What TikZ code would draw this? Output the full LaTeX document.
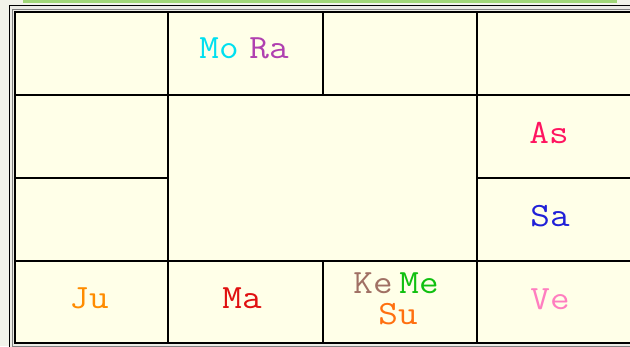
\documentclass[tikz,border=0pt]{standalone}
\usepackage{xcolor}
\definecolor{cellbg}{RGB}{255,255,232}
\definecolor{outbg}{RGB}{242,243,234}
\definecolor{framegap}{RGB}{236,236,230}
\definecolor{greenbar}{RGB}{160,214,120}
\definecolor{cMo}{RGB}{0,224,240}
\definecolor{cRa}{RGB}{176,64,176}
\definecolor{cAs}{RGB}{255,20,96}
\definecolor{cSa}{RGB}{32,32,216}
\definecolor{cJu}{RGB}{255,140,0}
\definecolor{cMa}{RGB}{224,16,16}
\definecolor{cKe}{RGB}{160,112,100}
\definecolor{cMe}{RGB}{16,192,16}
\definecolor{cSu}{RGB}{255,112,16}
\definecolor{cVe}{RGB}{255,126,192}
\newcommand{\plwide}[1]{\scalebox{1.12}[1]{#1}}
\begin{document}
\begin{tikzpicture}[x=1pt,y=-1pt,
  planet/.style={font=\fontsize{34}{34}\selectfont\ttfamily, inner sep=0pt, anchor=base},
  gridline/.style={line width=2pt, draw=black}]
\useasboundingbox (0,0) rectangle (630,346);
\clip (0,0) rectangle (630,346);
\fill[outbg] (0,0) rectangle (630,346);
\fill[greenbar] (23,0) rectangle (617,3);
% double frame
\fill[framegap] (9.5,5.5) rectangle (645,355);
\draw[line width=1.5pt] (9.5,5.5) rectangle (645,355);
\draw[line width=1pt, draw=gray] (12.5,9.5) rectangle (634,346);
\fill[cellbg] (15,12) rectangle (631,343);
% grid
\draw[gridline] (15,12) rectangle (631,343);
\draw[gridline] (15,95) -- (631,95);
\draw[gridline] (15,261) -- (631,261);
\draw[gridline] (15,178) -- (168,178);
\draw[gridline] (477,178) -- (631,178);
\draw[gridline] (168,12) -- (168,343);
\draw[gridline] (477,12) -- (477,343);
\draw[gridline] (323,12) -- (323,95);
\draw[gridline] (323,261) -- (323,343);
% planets
\node[planet, text=cMo] (mo) at (219,58) {\plwide{Mo}};
\node[planet, text=cRa] (ra) at (269,58) {\plwide{Ra}};
\node[planet, text=cAs] (as) at (549,143) {\plwide{As}};
\node[planet, text=cSa] (sa) at (550,226) {\plwide{Sa}};
\node[planet, text=cJu] (ju) at (89,308) {\plwide{Ju}};
\node[planet, text=cMa] (ma) at (242,308) {\plwide{Ma}};
\node[planet, text=cKe] (ke) at (373,293) {\plwide{Ke}};
\node[planet, text=cMe] (me) at (419,293) {\plwide{Me}};
\node[planet, text=cSu] (su) at (398,324) {\plwide{Su}};
\node[planet, text=cVe] (ve) at (550,309) {\plwide{Ve}};
\end{tikzpicture}
\end{document}
